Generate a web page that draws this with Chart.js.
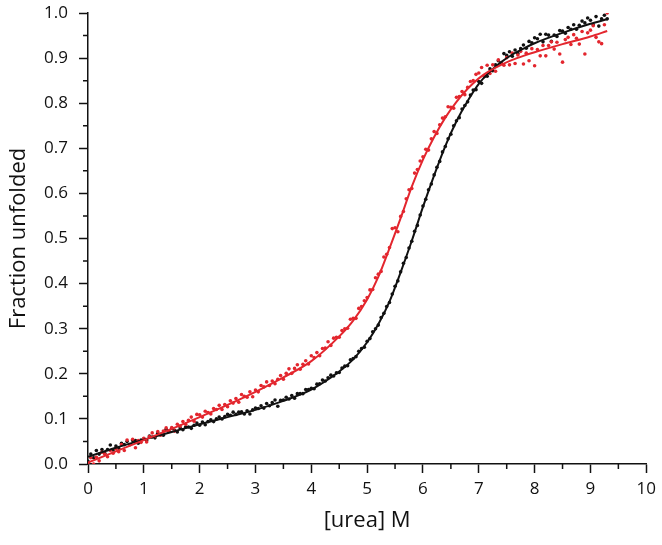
<!DOCTYPE html>
<html>
<head>
<meta charset="utf-8">
<script src="https://cdn.jsdelivr.net/npm/chart.js@4.4.1/dist/chart.umd.min.js"></script>
<style>
  body { margin: 0; background: #fff; }
  #wrap { width: 662px; height: 545px; }
</style>
</head>
<body>
<div id="wrap"><canvas id="myChart" width="662" height="545"></canvas></div>
<script>
// measured points, urea 0 -> 9.3 M in 0.05 M steps
var ureaStart = 0;
var ureaStep = 0.05;

var blackPoints = [
  0.006,0.022,0.014,0.030,0.022,0.032,0.024,0.032,0.042,0.031,
  0.040,0.035,0.046,0.043,0.050,0.043,0.052,0.052,0.046,0.053,
  0.056,0.052,0.062,0.060,0.058,0.068,0.066,0.064,0.077,0.072,
  0.079,0.075,0.071,0.080,0.076,0.082,0.082,0.079,0.086,0.091,
  0.086,0.093,0.087,0.094,0.098,0.094,0.100,0.104,0.100,0.105,
  0.110,0.108,0.115,0.110,0.115,0.116,0.111,0.118,0.111,0.120,
  0.124,0.123,0.129,0.124,0.134,0.129,0.136,0.142,0.128,0.141,
  0.142,0.148,0.144,0.152,0.146,0.156,0.156,0.156,0.165,0.165,
  0.168,0.167,0.177,0.178,0.186,0.184,0.191,0.197,0.195,0.202,
  0.203,0.213,0.217,0.218,0.231,0.234,0.238,0.250,0.256,0.259,
  0.272,0.278,0.293,0.300,0.308,0.325,0.334,0.349,0.358,0.377,
  0.394,0.406,0.426,0.445,0.458,0.479,0.494,0.516,0.529,0.552,
  0.572,0.587,0.608,0.621,0.641,0.658,0.671,0.692,0.704,0.721,
  0.731,0.750,0.761,0.768,0.787,0.795,0.803,0.818,0.829,0.830,
  0.848,0.844,0.859,0.860,0.876,0.872,0.885,0.894,0.889,0.910,
  0.906,0.914,0.904,0.918,0.910,0.921,0.929,0.922,0.937,0.934,
  0.945,0.943,0.953,0.936,0.953,0.951,0.937,0.951,0.948,0.961,
  0.960,0.955,0.968,0.964,0.974,0.964,0.973,0.982,0.978,0.989,
  0.984,0.974,0.992,0.971,0.987,0.995,0.987
];

var redPoints = [
  0.000,0.014,0.000,0.015,0.007,0.026,0.022,0.016,0.030,0.024,
  0.034,0.027,0.043,0.030,0.053,0.043,0.055,0.036,0.052,0.048,
  0.057,0.049,0.061,0.069,0.061,0.072,0.064,0.073,0.080,0.073,
  0.081,0.073,0.088,0.084,0.094,0.088,0.097,0.104,0.095,0.110,
  0.109,0.104,0.117,0.114,0.111,0.123,0.121,0.130,0.121,0.132,
  0.127,0.140,0.135,0.145,0.137,0.154,0.150,0.148,0.160,0.149,
  0.164,0.160,0.174,0.171,0.182,0.174,0.184,0.178,0.188,0.196,
  0.188,0.201,0.211,0.201,0.212,0.220,0.210,0.221,0.229,0.222,
  0.240,0.236,0.247,0.240,0.256,0.257,0.271,0.263,0.279,0.281,
  0.281,0.296,0.300,0.301,0.321,0.323,0.323,0.345,0.349,0.362,
  0.369,0.386,0.387,0.413,0.421,0.427,0.459,0.465,0.480,0.522,
  0.524,0.515,0.549,0.560,0.588,0.608,0.611,0.645,0.653,0.672,
  0.681,0.698,0.696,0.721,0.737,0.733,0.752,0.767,0.770,0.792,
  0.791,0.789,0.813,0.815,0.826,0.819,0.835,0.848,0.850,0.864,
  0.867,0.879,0.861,0.884,0.866,0.885,0.871,0.896,0.889,0.884,
  0.901,0.885,0.911,0.888,0.907,0.915,0.887,0.911,0.894,0.921,
  0.883,0.919,0.905,0.928,0.905,0.928,0.936,0.920,0.935,0.909,
  0.891,0.941,0.946,0.930,0.952,0.944,0.931,0.959,0.909,0.956,
  0.962,0.972,0.946,0.936,0.932,0.974,1.000
];

// fitted curves
var fitUrea  = [0,0.5,1,1.5,2,2.5,3,3.5,4,4.5,4.75,5,5.2,5.4,5.6,5.8,6.0,6.2,6.4,6.6,6.8,7.0,7.2,7.4,7.6,7.8,8.0,8.5,9.0,9.3];
var blackFit = [0.016,0.036,0.054,0.071,0.088,0.104,0.120,0.140,0.165,0.205,0.232,0.270,0.310,0.360,0.425,0.495,0.570,0.640,0.705,0.760,0.805,0.843,0.870,0.891,0.908,0.921,0.933,0.956,0.976,0.986];
var redFit   = [0.003,0.028,0.053,0.078,0.104,0.131,0.160,0.192,0.228,0.283,0.318,0.365,0.415,0.478,0.545,0.615,0.675,0.725,0.768,0.803,0.832,0.855,0.872,0.885,0.896,0.905,0.913,0.931,0.948,0.960];

var xTicks = [0,1,2,3,4,5,6,7,8,9,10];
var yTicks = [0,0.1,0.2,0.3,0.4,0.5,0.6,0.7,0.8,0.9,1.0];

var black = '#111111';
var red = '#e3262e';
var fontFam = '"Open Sans", "Noto Sans", sans-serif';

function toXY(vals) {
  return vals.map(function(v, i) { return {x: +(ureaStart + i * ureaStep).toFixed(2), y: v}; });
}
function fitXY(vals) {
  return vals.map(function(v, i) { return {x: fitUrea[i], y: v}; });
}

// minor ticks (Chart.js has none)
var minorTicks = {
  id: 'minorTicks',
  afterDraw: function(chart) {
    var ctx = chart.ctx;
    var xs = chart.scales.x, ys = chart.scales.y;
    var left = chart.chartArea.left, bottom = chart.chartArea.bottom;
    ctx.save();
    ctx.strokeStyle = black;
    ctx.lineWidth = 1.5;
    ctx.beginPath();
    for (var i = 0; i < yTicks.length - 1; i++) {
      var py = ys.getPixelForValue((yTicks[i] + yTicks[i + 1]) / 2);
      ctx.moveTo(left - 5, py); ctx.lineTo(left, py);
    }
    for (var j = 0; j < xTicks.length - 1; j++) {
      var px = xs.getPixelForValue((xTicks[j] + xTicks[j + 1]) / 2);
      ctx.moveTo(px, bottom); ctx.lineTo(px, bottom + 5);
    }
    ctx.stroke();
    ctx.restore();
  }
};

var ctx = document.getElementById('myChart').getContext('2d');
var chart = new Chart(ctx, {
  type: 'scatter',
  data: {
    datasets: [
      {
        label: 'fit red',
        data: fitXY(redFit),
        showLine: true,
        borderColor: red,
        borderWidth: 2,
        pointRadius: 0,
        cubicInterpolationMode: 'monotone'
      },
      {
        label: 'fit black',
        data: fitXY(blackFit),
        showLine: true,
        borderColor: black,
        borderWidth: 2,
        pointRadius: 0,
        cubicInterpolationMode: 'monotone'
      },
      {
        label: 'red',
        data: toXY(redPoints),
        backgroundColor: red,
        borderWidth: 0,
        pointRadius: 1.8
      },
      {
        label: 'black',
        data: toXY(blackPoints),
        backgroundColor: black,
        borderWidth: 0,
        pointRadius: 1.8
      }
    ]
  },
  options: {
    responsive: false,
    animation: false,
    layout: { padding: { left: 0, right: 15, top: 13, bottom: 0 } },
    plugins: {
      legend: { display: false },
      tooltip: { enabled: false }
    },
    scales: {
      x: {
        type: 'linear',
        min: 0, max: 10,
        afterBuildTicks: function(s) { s.ticks = xTicks.map(function(v) { return {value: v}; }); },
        afterFit: function(s) { s.height = 81; },
        border: { color: black, width: 1.5 },
        grid: { drawOnChartArea: false, drawTicks: true, tickLength: 9, color: black, tickWidth: 1.5 },
        ticks: {
          color: black, padding: 6,
          font: { family: fontFam, size: 17 },
          callback: function(v) { return String(v); }
        },
        title: {
          display: true, text: '[urea] M', color: black,
          font: { family: fontFam, size: 22 },
          padding: { top: 0, bottom: 11 }
        }
      },
      y: {
        type: 'linear',
        min: 0, max: 1,
        afterBuildTicks: function(s) { s.ticks = yTicks.map(function(v) { return {value: v}; }); },
        afterFit: function(s) { s.width = 88; s.paddingTop = 0; s.paddingBottom = 0; },
        border: { color: black, width: 1.5 },
        grid: { drawOnChartArea: false, drawTicks: true, tickLength: 9, color: black, tickWidth: 1.5 },
        ticks: {
          color: black, padding: 11,
          font: { family: fontFam, size: 17 },
          callback: function(v) { return v.toFixed(1); }
        },
        title: {
          display: true, text: 'Fraction unfolded', color: black,
          font: { family: fontFam, size: 22 },
          padding: { top: 6, bottom: 0 }
        }
      }
    }
  },
  plugins: [minorTicks]
});
</script>
</body>
</html>
